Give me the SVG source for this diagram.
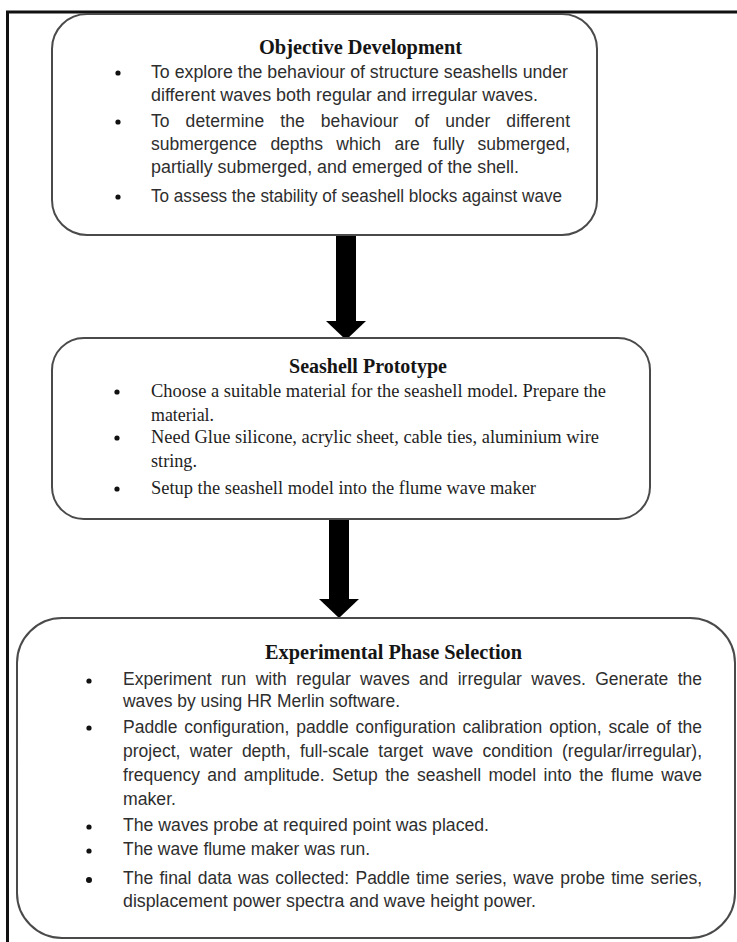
<svg xmlns="http://www.w3.org/2000/svg" width="737" height="942" viewBox="0 0 737 942">
  <style>
    .box { fill: #ffffff; stroke: #4a4a4a; stroke-width: 2; }
    .title { font-family: "Liberation Serif", "Times New Roman", serif; font-weight: bold; font-size: 20px; fill: #151515; }
    .sans { font-family: "Liberation Sans", Arial, sans-serif; font-size: 17.5px; fill: #2e2e2e; }
    .serif { font-family: "Liberation Serif", "Times New Roman", serif; font-size: 18.4px; fill: #1e1e1e; }
    .dot { fill: #111111; }
    .arrow { fill: #000000; }
    .frame { stroke: #111111; stroke-width: 3; fill: none; }
  </style>

  <rect x="0" y="0" width="737" height="942" fill="#ffffff"/>

  <g id="frame">
    <line class="frame" x1="6" y1="12" x2="737" y2="12"/>
    <line class="frame" x1="7.5" y1="11" x2="7.5" y2="942"/>
  </g>

  <g id="connectors">
    <g id="arrow-objective-prototype">
      <rect class="arrow" x="336" y="235" width="20" height="87"/>
      <polygon class="arrow" points="326,321 366,321 346,340"/>
    </g>
    <g id="arrow-prototype-experimental">
      <rect class="arrow" x="329" y="519" width="20" height="81"/>
      <polygon class="arrow" points="319,599 359,599 339,618"/>
    </g>
  </g>

  <g id="node-objective">
    <rect class="box" x="52" y="14" width="545" height="221" rx="35" ry="35"/>
    <text class="title" x="259" y="54" textLength="203" lengthAdjust="spacingAndGlyphs">Objective Development</text>
    <circle class="dot" cx="118" cy="73" r="2.6"/>
    <circle class="dot" cx="118" cy="122" r="2.6"/>
    <circle class="dot" cx="118" cy="197" r="2.6"/>
    <text class="sans" x="151" y="78" textLength="417" lengthAdjust="spacingAndGlyphs">To explore the behaviour of structure seashells under</text>
    <text class="sans" x="151" y="101" textLength="387" lengthAdjust="spacingAndGlyphs">different waves both regular and irregular waves.</text>
    <text class="sans" x="151" y="127" word-spacing="11" textLength="419" lengthAdjust="spacing">To determine the behaviour of under different</text>
    <text class="sans" x="151" y="150" word-spacing="8.5" textLength="419" lengthAdjust="spacing">submergence depths which are fully submerged,</text>
    <text class="sans" x="151" y="173" textLength="368" lengthAdjust="spacingAndGlyphs">partially submerged, and emerged of the shell.</text>
    <text class="sans" x="151" y="202" textLength="411" lengthAdjust="spacingAndGlyphs">To assess the stability of seashell blocks against wave</text>
  </g>

  <g id="node-prototype">
    <rect class="box" x="52" y="338" width="598" height="181" rx="32" ry="32"/>
    <text class="title" x="289" y="373" textLength="158" lengthAdjust="spacingAndGlyphs">Seashell Prototype</text>
    <circle class="dot" cx="117" cy="392" r="2.6"/>
    <circle class="dot" cx="117" cy="438" r="2.6"/>
    <circle class="dot" cx="117" cy="489" r="2.6"/>
    <text class="serif" x="151" y="397" textLength="455" lengthAdjust="spacingAndGlyphs">Choose a suitable material for the seashell model. Prepare the</text>
    <text class="serif" x="151" y="421" textLength="63" lengthAdjust="spacingAndGlyphs">material.</text>
    <text class="serif" x="151" y="443" textLength="448" lengthAdjust="spacingAndGlyphs">Need Glue silicone, acrylic sheet, cable ties, aluminium wire</text>
    <text class="serif" x="151" y="467" textLength="46" lengthAdjust="spacingAndGlyphs">string.</text>
    <text class="serif" x="151" y="494" textLength="385" lengthAdjust="spacingAndGlyphs">Setup the seashell model into the flume wave maker</text>
  </g>

  <g id="node-experimental">
    <rect class="box" x="17" y="618" width="718" height="320" rx="45" ry="45"/>
    <text class="title" x="265" y="659" textLength="257" lengthAdjust="spacingAndGlyphs">Experimental Phase Selection</text>
    <circle class="dot" cx="89" cy="681" r="2.6"/>
    <circle class="dot" cx="89" cy="728" r="2.6"/>
    <circle class="dot" cx="89" cy="827" r="2.6"/>
    <circle class="dot" cx="89" cy="851" r="2.6"/>
    <circle class="dot" cx="89" cy="880" r="3"/>
    <text class="sans" x="123" y="685" word-spacing="4.5" textLength="579" lengthAdjust="spacing">Experiment run with regular waves and irregular waves. Generate the</text>
    <text class="sans" x="123" y="707" textLength="277" lengthAdjust="spacingAndGlyphs">waves by using HR Merlin software.</text>
    <text class="sans" x="123" y="733" word-spacing="2" textLength="579" lengthAdjust="spacing">Paddle configuration, paddle configuration calibration option, scale of the</text>
    <text class="sans" x="123" y="757" word-spacing="4.5" textLength="579" lengthAdjust="spacing">project, water depth, full-scale target wave condition (regular/irregular),</text>
    <text class="sans" x="123" y="781" word-spacing="2.5" textLength="579" lengthAdjust="spacing">frequency and amplitude. Setup the seashell model into the flume wave</text>
    <text class="sans" x="123" y="805" textLength="53" lengthAdjust="spacingAndGlyphs">maker.</text>
    <text class="sans" x="123" y="831" textLength="366" lengthAdjust="spacingAndGlyphs">The waves probe at required point was placed.</text>
    <text class="sans" x="123" y="855" textLength="247" lengthAdjust="spacingAndGlyphs">The wave flume maker was run.</text>
    <text class="sans" x="123" y="884" word-spacing="1.4" textLength="579" lengthAdjust="spacing">The final data was collected: Paddle time series, wave probe time series,</text>
    <text class="sans" x="123" y="907" textLength="413" lengthAdjust="spacingAndGlyphs">displacement power spectra and wave height power.</text>
  </g>
</svg>
